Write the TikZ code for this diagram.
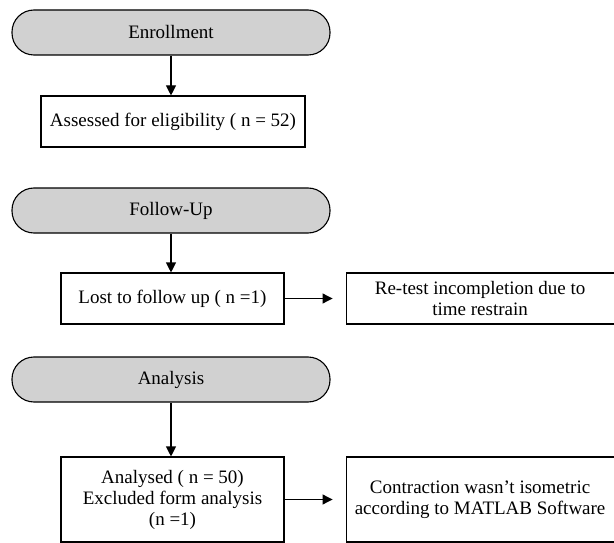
\documentclass[tikz,border=0pt]{standalone}
\usepackage{fontspec}
\setmainfont{Liberation Serif}
\usepackage{tikz}
\usetikzlibrary{arrows.meta, positioning}
\definecolor{pillgray}{RGB}{209,209,209}

\begin{document}
\begin{tikzpicture}[x=1pt, y=-1pt,
  phase/.style={draw, fill=pillgray, rounded corners=22pt, minimum width=318pt,
                minimum height=45pt, inner sep=0pt},
  box/.style={draw, align=center, inner sep=0pt},
  arr/.style={-{Triangle[length=10pt, width=10pt]}},
  every node/.style={font=\fontsize{19}{21}\selectfont},
  line width=1.1pt
]
\useasboundingbox (0,0) rectangle (614,543);
\node[phase] (enr) at (171,32.5) {Enrollment};
\node[box, minimum width=264pt, minimum height=51pt] (elig) at (173,121.5) {Assessed for eligibility ( n = 52)};
\node[phase] (fol) at (171,210.5) {Follow-Up};
\node[box, minimum width=223pt, minimum height=51pt] (lost) at (172.5,298.5) {Lost to follow up ( n =1)};
\node[box, minimum width=268pt, minimum height=51pt, right=61pt of lost] (retest) {Re-test incompletion due to\\ time restrain};
\node[phase] (ana) at (171,379.5) {Analysis};
\node[box, minimum width=223pt, minimum height=85pt] (done) at (172.5,499.5) {Analysed ( n = 50)\\ Excluded form analysis\\ (n =1)};
\node[box, minimum width=268pt, minimum height=85pt, right=61pt of done] (iso) {Contraction wasn’t isometric\\ according to MATLAB Software};
\draw[arr] (enr.south) -- (enr.south |- elig.north);
\draw[arr] (fol.south) -- (fol.south |- lost.north);
\draw[arr, shorten >=13pt] (lost) -- (retest);
\draw[arr] (ana.south) -- (ana.south |- done.north);
\draw[arr, shorten >=13pt] (done) -- (iso);
\end{tikzpicture}
\end{document}
